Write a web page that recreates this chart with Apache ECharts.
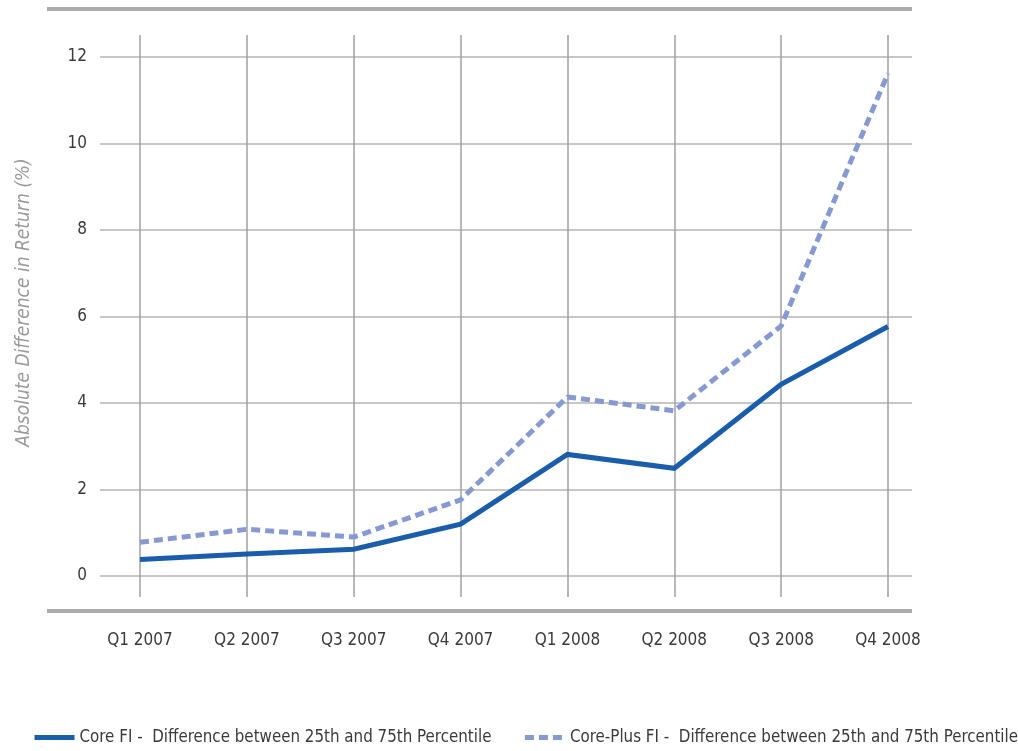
<!DOCTYPE html>
<html>
<head>
<meta charset="utf-8">
<title>Absolute Difference in Return</title>
<script src="https://cdn.jsdelivr.net/npm/echarts@6/dist/echarts.min.js"></script>
<style>
  html, body { margin: 0; padding: 0; background: #ffffff; }
  #chart { width: 1018px; height: 751px; }
</style>
</head>
<body>
<div id="chart"></div>
<script>
// Quarterly spread between 25th and 75th percentile returns
const quarters = ['Q1 2007', 'Q2 2007', 'Q3 2007', 'Q4 2007', 'Q1 2008', 'Q2 2008', 'Q3 2008', 'Q4 2008'];
const coreFI = [0.38, 0.51, 0.62, 1.2, 2.81, 2.49, 4.43, 5.77];
const corePlusFI = [0.78, 1.08, 0.9, 1.76, 4.14, 3.82, 5.78, 11.62];
const seriesNames = [
  'Core FI -  Difference between 25th and 75th Percentile',
  'Core-Plus FI -  Difference between 25th and 75th Percentile'
];
const yTitle = 'Absolute Difference in Return (%)';

const FONT = '"DejaVu Sans Condensed", "DejaVu Sans", sans-serif';
const TEXT = '#3a3a3a';
const PX_PER_UNIT = 43.25;           // vertical scale shared by both grids
const VALUE_TOP = 57, VALUE_BOTTOM = 576;
const LINE_TOP = 35, LINE_BOTTOM = 597;

const chart = echarts.init(document.getElementById('chart'), null, { renderer: 'canvas' });

chart.setOption({
  backgroundColor: '#ffffff',
  animation: false,
  textStyle: { fontFamily: FONT },
  grid: [
    // grid 0: the series and vertical category lines
    { left: 140, right: 1018 - 888, top: LINE_TOP, bottom: 751 - LINE_BOTTOM, containLabel: false },
    // grid 1: horizontal value gridlines and tick labels
    { left: 100, right: 1018 - 912, top: VALUE_TOP, bottom: 751 - VALUE_BOTTOM, containLabel: false }
  ],
  xAxis: [
    {
      gridIndex: 0,
      type: 'category',
      data: quarters,
      boundaryGap: false,
      axisLine: { show: false },
      axisTick: { show: false },
      axisLabel: { color: TEXT, fontSize: 17, fontFamily: FONT, margin: 35 },
      splitLine: { show: true, lineStyle: { color: '#a0a0a0', width: 1.5 } }
    },
    {
      gridIndex: 1,
      type: 'value',
      show: false
    }
  ],
  yAxis: [
    {
      gridIndex: 0,
      type: 'value',
      min: -(LINE_BOTTOM - VALUE_BOTTOM) / PX_PER_UNIT,
      max: 12 + (VALUE_TOP - LINE_TOP) / PX_PER_UNIT,
      show: false,
      splitLine: { show: false }
    },
    {
      gridIndex: 1,
      type: 'value',
      min: 0,
      max: 12,
      interval: 2,
      name: yTitle,
      nameLocation: 'middle',
      nameGap: 66,
      nameRotate: 90,
      nameTextStyle: {
        color: '#9a9a9a', fontSize: 19, fontStyle: 'italic', fontFamily: FONT,
        padding: [0, 0, 0, 28]
      },
      axisLine: { show: false },
      axisTick: { show: false },
      axisLabel: { color: TEXT, fontSize: 17, fontFamily: FONT, margin: 13 },
      splitLine: { show: true, lineStyle: { color: '#b4b4b4', width: 1.5 } }
    }
  ],
  legend: {
    left: 32,
    top: 729,
    width: 1000,
    padding: 0,
    itemWidth: 40,
    itemHeight: 14,
    itemGap: 31,
    textStyle: { color: TEXT, fontSize: 16.8, fontFamily: FONT },
    itemStyle: { opacity: 0 },
    lineStyle: { width: 5 },
    data: seriesNames
  },
  graphic: [
    { type: 'line', shape: { x1: 47, y1: 9, x2: 912, y2: 9 }, style: { stroke: '#ababab', lineWidth: 4 }, silent: true },
    { type: 'line', shape: { x1: 47, y1: 611, x2: 912, y2: 611 }, style: { stroke: '#ababab', lineWidth: 4 }, silent: true }
  ],
  series: [
    {
      name: seriesNames[0],
      type: 'line',
      xAxisIndex: 0,
      yAxisIndex: 0,
      data: coreFI,
      symbol: 'none',
      lineStyle: { color: '#1a5dab', width: 5, join: 'miter' },
      itemStyle: { color: '#1a5dab' },
      z: 3
    },
    {
      name: seriesNames[1],
      type: 'line',
      xAxisIndex: 0,
      yAxisIndex: 0,
      data: corePlusFI,
      symbol: 'none',
      lineStyle: { color: '#8699d1', width: 5, type: [9, 5] },
      itemStyle: { color: '#8699d1' },
      z: 2
    }
  ]
});
</script>
</body>
</html>
